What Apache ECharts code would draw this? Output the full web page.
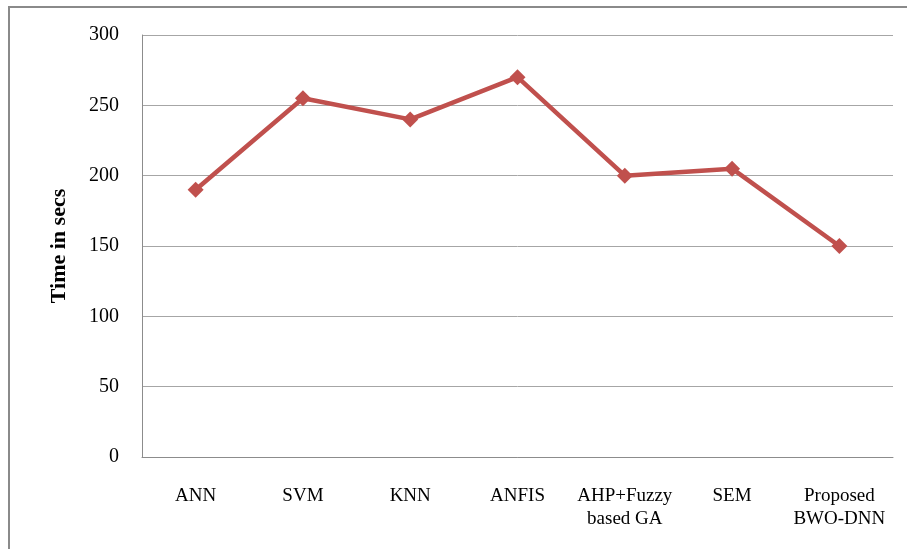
<!DOCTYPE html>
<html>
<head>
<meta charset="utf-8">
<script src="https://cdn.jsdelivr.net/npm/echarts@6/dist/echarts.min.js"></script>
<style>
  html, body { margin: 0; padding: 0; background: #fff; }
  #chart { width: 907px; height: 549px; }
</style>
</head>
<body>
<div id="chart"></div>
<script>
// Processing time per method
const categories = ['ANN', 'SVM', 'KNN', 'ANFIS', 'AHP+Fuzzy\nbased GA', 'SEM', 'Proposed\nBWO-DNN'];
const timeSecs = [190, 255, 240, 270, 200, 205, 150];
const yTicks = { min: 0, max: 300, interval: 50 };
const yAxisTitle = 'Time in secs';

const serif = '"Liberation Serif", "Times New Roman", serif';
const chart = echarts.init(document.getElementById('chart'));

chart.setOption({
  animation: false,
  backgroundColor: '#ffffff',
  graphic: [{
    type: 'rect',
    shape: { x: 9, y: 7, width: 1000, height: 600 },
    style: { fill: 'none', stroke: '#8a8a8a', lineWidth: 2 },
    silent: true
  }],
  grid: { left: 142, right: 14, top: 35, bottom: 92 },
  xAxis: {
    type: 'category',
    data: categories,
    boundaryGap: true,
    axisLine: { show: true, lineStyle: { color: '#8c8c8c', width: 1 } },
    axisTick: { show: false },
    axisLabel: {
      interval: 0,
      margin: 28,
      color: '#000',
      fontFamily: serif,
      fontSize: 19,
      lineHeight: 23
    },
    splitLine: { show: false }
  },
  yAxis: {
    type: 'value',
    min: yTicks.min,
    max: yTicks.max,
    interval: yTicks.interval,
    name: yAxisTitle,
    nameLocation: 'middle',
    nameGap: 72,
    nameRotate: 90,
    nameTextStyle: { color: '#000', fontFamily: serif, fontSize: 22, fontWeight: 'bold' },
    axisLine: { show: true, lineStyle: { color: '#8c8c8c', width: 1 } },
    axisTick: { show: false },
    axisLabel: { margin: 23, color: '#000', fontFamily: serif, fontSize: 20, padding: [4, 0, 0, 0] },
    splitLine: { show: true, lineStyle: { color: '#a6a6a6', width: 1 } }
  },
  series: [{
    type: 'line',
    data: timeSecs,
    symbol: 'diamond',
    symbolSize: 16,
    lineStyle: { color: '#c0504d', width: 4.5 },
    itemStyle: { color: '#c0504d' },
    label: { show: false }
  }]
});
</script>
</body>
</html>
